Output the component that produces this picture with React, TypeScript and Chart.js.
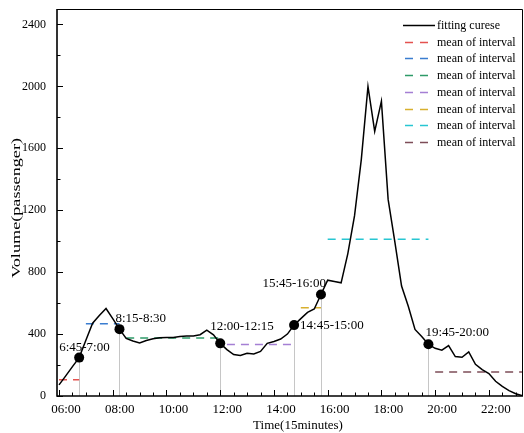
import React, { useEffect, useRef } from "react";
import { Chart, registerables } from "chart.js";

Chart.register(...registerables);

// Passenger volume per 15-minute interval
const TIMES = [
  "06:00", "06:15", "06:30", "06:45", "07:00", "07:15", "07:30", "07:45",
  "08:00", "08:15", "08:30", "08:45", "09:00", "09:15", "09:30", "09:45",
  "10:00", "10:15", "10:30", "10:45", "11:00", "11:15", "11:30", "11:45",
  "12:00", "12:15", "12:30", "12:45", "13:00", "13:15", "13:30", "13:45",
  "14:00", "14:15", "14:30", "14:45", "15:00", "15:15", "15:30", "15:45",
  "16:00", "16:15", "16:30", "16:45", "17:00", "17:15", "17:30", "17:45",
  "18:00", "18:15", "18:30", "18:45", "19:00", "19:15", "19:30", "19:45",
  "20:00", "20:15", "20:30", "20:45", "21:00", "21:15", "21:30", "21:45",
  "22:00", "22:15", "22:30", "22:45", "23:00", "23:15",
];

const VOLUME = [
  72, 130, 190, 248, 360, 470, 520, 565,
  500, 432, 372, 355, 342, 358, 370, 377,
  378, 378, 385, 388, 388, 396, 425, 395,
  340, 300, 268, 262, 276, 272, 288, 340,
  352, 368, 400, 458, 500, 540, 562, 656,
  748, 740, 731, 920, 1165, 1525, 2000, 1710,
  1905, 1270, 995, 710, 580, 430, 385, 334,
  308, 296, 326, 255, 250, 285, 205, 170,
  145, 95, 62, 35, 15, 2,
];

// Split points of the day with their labels
const MARKER_TIMES = ["06:45", "08:15", "12:00", "14:45", "15:45", "19:45"];
const MARKER_LABELS = ["6:45-7:00", "8:15-8:30", "12:00-12:15", "14:45-15:00", "15:45-16:00", "19:45-20:00"];

// Mean volume of each interval
const MEAN_START = ["06:00", "07:00", "08:30", "12:15", "15:00", "16:00", "20:00"];
const MEAN_END = ["06:45", "08:15", "12:00", "14:45", "15:45", "19:45", "23:15"];
const MEAN_VALUE = [105, 466, 375, 332, 570, 1012, 155];
const MEAN_COLORS = ["#e4524f", "#3a7dd0", "#2e9a68", "#a57fd4", "#d8b02e", "#28c6d2", "#7e4d58"];

const CURVE_LABEL = "fitting curese";
const MEAN_LABEL = "mean of interval";

const X_TICKS = [6, 8, 10, 12, 14, 16, 18, 20, 22];
const X_TICK_LABELS = ["06:00", "08:00", "10:00", "12:00", "14:00", "16:00", "18:00", "20:00", "22:00"];
const Y_TICKS = [0, 400, 800, 1200, 1600, 2000, 2400];

const X_TITLE = "Time(15minutes)";
const Y_TITLE = "Volume(passenger)";

const SERIF = "'Liberation Serif', 'Times New Roman', serif";

const toHours = (t: string) => {
  const [h, m] = t.split(":").map(Number);
  return h + m / 60;
};

// Text placement of each split-point label relative to its marker
const LABEL_PLACEMENT = [
  { dx: -20, dy: -10, align: "left" },
  { dx: -4, dy: -11, align: "left" },
  { dx: -10, dy: -17, align: "left" },
  { dx: 6, dy: 0, align: "left" },
  { dx: 5, dy: -11, align: "right" },
  { dx: -3, dy: -12, align: "left" },
];

const noScalePadding = (s: any) => {
  s.paddingTop = 0;
  s.paddingBottom = 0;
  s.paddingLeft = 0;
  s.paddingRight = 0;
};

const decorations = {
  id: "decorations",
  beforeDatasetsDraw(chart: any) {
    const { ctx, chartArea, scales } = chart;
    const x = scales.x;
    const y = scales.y;
    ctx.save();
    ctx.strokeStyle = "#c6c6c6";
    ctx.lineWidth = 1;
    MARKER_TIMES.forEach((t) => {
      const v = VOLUME[TIMES.indexOf(t)];
      const px = Math.round(x.getPixelForValue(toHours(t))) + 0.5;
      ctx.beginPath();
      ctx.moveTo(px, y.getPixelForValue(v));
      ctx.lineTo(px, chartArea.bottom);
      ctx.stroke();
    });
    ctx.restore();
  },
  afterDraw(chart: any) {
    const { ctx, chartArea, scales } = chart;
    const x = scales.x;
    const y = scales.y;
    const { left, right, top, bottom } = chartArea;
    ctx.save();

    // frame
    ctx.strokeStyle = "#000";
    ctx.lineWidth = 1;
    ctx.beginPath();
    ctx.moveTo(left, top + 0.5);
    ctx.lineTo(right - 0.5, top + 0.5);
    ctx.lineTo(right - 0.5, bottom);
    ctx.stroke();
    ctx.lineWidth = 1.6;
    ctx.beginPath();
    ctx.moveTo(left, top);
    ctx.lineTo(left, bottom);
    ctx.lineTo(right, bottom);
    ctx.stroke();

    // inward tick marks
    ctx.lineWidth = 1;
    ctx.beginPath();
    for (let h = 6; h <= 23.01; h += 0.5) {
      const major = X_TICKS.includes(h);
      const px = Math.round(x.getPixelForValue(h)) + 0.5;
      ctx.moveTo(px, bottom);
      ctx.lineTo(px, bottom - (major ? 6 : 3.5));
    }
    Y_TICKS.forEach((v, i) => {
      const py = Math.round(y.getPixelForValue(v)) + 0.5;
      ctx.moveTo(left, py);
      ctx.lineTo(left + 6, py);
      if (i < Y_TICKS.length - 1) {
        const mid = (v + Y_TICKS[i + 1]) / 2;
        const pm = Math.round(y.getPixelForValue(mid)) + 0.5;
        ctx.moveTo(left, pm);
        ctx.lineTo(left + 3.5, pm);
      }
    });
    ctx.stroke();

    // split-point labels
    ctx.fillStyle = "#000";
    ctx.font = `13px ${SERIF}`;
    ctx.textBaseline = "middle";
    MARKER_TIMES.forEach((t, i) => {
      const v = VOLUME[TIMES.indexOf(t)];
      const p = LABEL_PLACEMENT[i];
      ctx.textAlign = p.align as CanvasTextAlign;
      ctx.fillText(MARKER_LABELS[i], x.getPixelForValue(toHours(t)) + p.dx, y.getPixelForValue(v) + p.dy);
    });

    // legend
    const lx = 403;
    const ly = 25;
    const row = 16.7;
    ctx.font = `12px ${SERIF}`;
    ctx.textAlign = "left";
    chart.data.datasets.forEach((ds: any) => {
      if (ds.legendRow === undefined) return;
      const cy = Math.round(ly + ds.legendRow * row) + 0.5;
      ctx.strokeStyle = ds.borderColor;
      ctx.lineWidth = 1.5;
      ctx.beginPath();
      if (ds.borderDash) {
        ctx.moveTo(lx + 2, cy);
        ctx.lineTo(lx + 10, cy);
        ctx.moveTo(lx + 17, cy);
        ctx.lineTo(lx + 25, cy);
      } else {
        ctx.moveTo(lx, cy);
        ctx.lineTo(lx + 32, cy);
      }
      ctx.stroke();
      ctx.fillStyle = "#000";
      ctx.fillText(ds.label, lx + 34, cy);
    });

    // axis titles
    ctx.font = `13px ${SERIF}`;
    ctx.textAlign = "center";
    ctx.fillText(X_TITLE, 298, 426);
    ctx.save();
    ctx.translate(17, 208);
    ctx.rotate(-Math.PI / 2);
    const w = ctx.measureText(Y_TITLE).width;
    ctx.scale(140 / w, 1);
    ctx.fillText(Y_TITLE, 0, 0);
    ctx.restore();

    ctx.restore();
  },
};

export default function App() {
  const canvasRef = useRef<HTMLCanvasElement | null>(null);

  useEffect(() => {
    if (!canvasRef.current) return;

    const curve = TIMES.map((t, i) => ({ x: toHours(t), y: VOLUME[i] }));
    const markers = MARKER_TIMES.map((t) => ({ x: toHours(t), y: VOLUME[TIMES.indexOf(t)] }));

    const meanSets = MEAN_VALUE.map((v, i) => ({
      type: "line" as const,
      label: MEAN_LABEL,
      legendRow: i + 1,
      data: [
        { x: toHours(MEAN_START[i]), y: v },
        { x: toHours(MEAN_END[i]), y: v },
      ],
      borderColor: MEAN_COLORS[i],
      borderWidth: 1.5,
      borderDash: [8, 6],
      pointRadius: 0,
      order: 1,
    }));

    const chart = new Chart(canvasRef.current, {
      type: "line",
      data: {
        datasets: [
          {
            type: "line",
            label: CURVE_LABEL,
            legendRow: 0,
            data: curve,
            borderColor: "#000",
            borderWidth: 1.5,
            pointRadius: 0,
            tension: 0,
            order: 0,
          } as any,
          ...meanSets,
          {
            type: "scatter",
            label: "split",
            data: markers,
            pointRadius: 5,
            pointBackgroundColor: "#000",
            pointBorderWidth: 0,
            order: -1,
          } as any,
        ],
      },
      options: {
        animation: false,
        responsive: false,
        devicePixelRatio: 1,
        layout: { autoPadding: false, padding: { top: 9, right: 1, left: 0, bottom: 0 } },
        plugins: {
          legend: { display: false },
          tooltip: { enabled: false },
        },
        scales: {
          x: {
            type: "linear",
            min: 5.925,
            max: 23.27,
            afterBuildTicks: (s: any) => {
              s.ticks = X_TICKS.map((v) => ({ value: v }));
            },
            afterFit: (s: any) => {
              s.height = 37;
              noScalePadding(s);
            },
            ticks: {
              callback: (_v: any, i: number) => X_TICK_LABELS[i],
              font: { family: SERIF, size: 13 },
              color: "#000",
              padding: 6,
              labelOffset: 7,
              maxRotation: 0,
              autoSkip: false,
            },
            grid: { display: false, drawTicks: false },
            border: { display: false },
          },
          y: {
            type: "linear",
            min: 0,
            max: 2500,
            afterBuildTicks: (s: any) => {
              s.ticks = Y_TICKS.map((v) => ({ value: v }));
            },
            afterFit: (s: any) => {
              s.width = 57;
              noScalePadding(s);
            },
            ticks: {
              callback: (v: any) => String(v),
              font: { family: SERIF, size: 12 },
              color: "#000",
              padding: 11,
              autoSkip: false,
            },
            grid: { display: false, drawTicks: false },
            border: { display: false },
          },
        },
      },
      plugins: [decorations],
    });

    return () => chart.destroy();
  }, []);

  return (
    <div style={{ position: "fixed", left: 0, top: 0, width: 524, height: 433, background: "#fff" }}>
      <canvas ref={canvasRef} width={524} height={433} style={{ display: "block" }} />
    </div>
  );
}
